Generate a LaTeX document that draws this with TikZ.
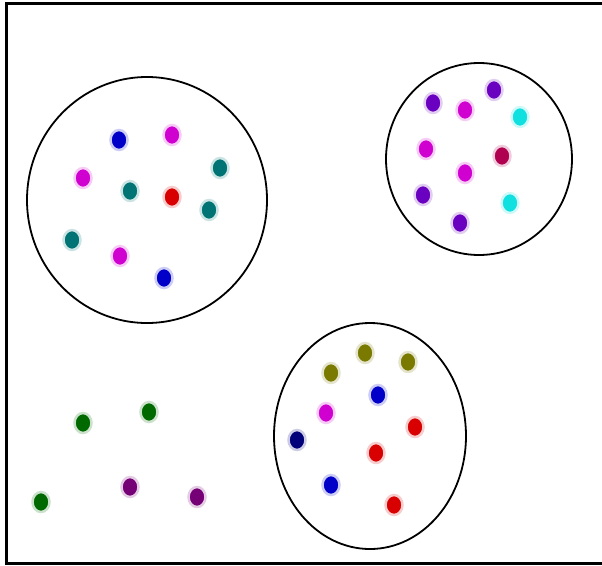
\documentclass[tikz,border=0pt]{standalone}
\usepackage{xcolor}
\usepackage{tikz}
\usetikzlibrary{shapes.geometric}
\definecolor{DotBlue}{HTML}{0000C8}
\definecolor{DotNavy}{HTML}{00007A}
\definecolor{DotTeal}{HTML}{007474}
\definecolor{DotRed}{HTML}{D80000}
\definecolor{DotMagenta}{HTML}{D000D0}
\definecolor{DotViolet}{HTML}{6A00C0}
\definecolor{DotCrimson}{HTML}{B00050}
\definecolor{DotCyan}{HTML}{10E0E0}
\definecolor{DotOlive}{HTML}{7A7A00}
\definecolor{DotGreen}{HTML}{006A00}
\definecolor{DotPlum}{HTML}{760076}

\begin{document}
\begin{tikzpicture}[
  x=1pt,y=-1pt,
  grp/.style={draw=black,line width=1.8pt,ellipse,inner sep=0pt},
  spot/.style={ellipse,inner sep=0pt,minimum width=17pt,minimum height=20pt,
               line width=2.5pt},
  sp/.style={spot,fill=#1,draw=#1!20}
]
\useasboundingbox (0,0) rectangle (602,565);
\draw[line width=3pt] (604,3.5) -- (6,3.5) -- (6,563.5) -- (604,563.5);
% groups
\node[grp,minimum width=240pt,minimum height=246pt] (left)  at (147,200) {};
\node[grp,minimum width=186pt,minimum height=192pt] (right) at (479,159) {};
\node[grp,minimum width=192pt,minimum height=226pt] (low)   at (370,436) {};
% left group
\node[sp=DotBlue]    (l1)  at (119,140) {};
\node[sp=DotMagenta] (l2)  at (172,135) {};
\node[sp=DotMagenta] (l3)  at (83,178)  {};
\node[sp=DotTeal]    (l4)  at (130,191) {};
\node[sp=DotRed]     (l5)  at (172,197) {};
\node[sp=DotTeal]    (l6)  at (220,168) {};
\node[sp=DotTeal]    (l7)  at (209,210) {};
\node[sp=DotTeal]    (l8)  at (72,240)  {};
\node[sp=DotMagenta] (l9)  at (120,256) {};
\node[sp=DotBlue]    (l10) at (164,278) {};
% right group
\node[sp=DotViolet]  (r1)  at (433,103) {};
\node[sp=DotMagenta] (r2)  at (465,110) {};
\node[sp=DotViolet]  (r3)  at (494,90)  {};
\node[sp=DotCyan]    (r4)  at (520,117) {};
\node[sp=DotMagenta] (r5)  at (426,149) {};
\node[sp=DotCrimson] (r6)  at (502,156) {};
\node[sp=DotMagenta] (r7)  at (465,173) {};
\node[sp=DotViolet]  (r8)  at (423,195) {};
\node[sp=DotCyan]    (r9)  at (510,203) {};
\node[sp=DotViolet]  (r10) at (460,223) {};
% lower group
\node[sp=DotOlive]   (b1)  at (365,353) {};
\node[sp=DotOlive]   (b2)  at (408,362) {};
\node[sp=DotOlive]   (b3)  at (331,373) {};
\node[sp=DotBlue]    (b4)  at (378,395) {};
\node[sp=DotMagenta] (b5)  at (326,413) {};
\node[sp=DotRed]     (b6)  at (415,427) {};
\node[sp=DotNavy]    (b7)  at (297,440) {};
\node[sp=DotRed]     (b8)  at (376,453) {};
\node[sp=DotBlue]    (b9)  at (331,485) {};
\node[sp=DotRed]     (b10) at (394,505) {};
% loose points
\node[sp=DotGreen]   (o1)  at (83,423)  {};
\node[sp=DotGreen]   (o2)  at (149,412) {};
\node[sp=DotGreen]   (o3)  at (41,502)  {};
\node[sp=DotPlum]    (o4)  at (130,487) {};
\node[sp=DotPlum]    (o5)  at (197,497) {};
\end{tikzpicture}
\end{document}
